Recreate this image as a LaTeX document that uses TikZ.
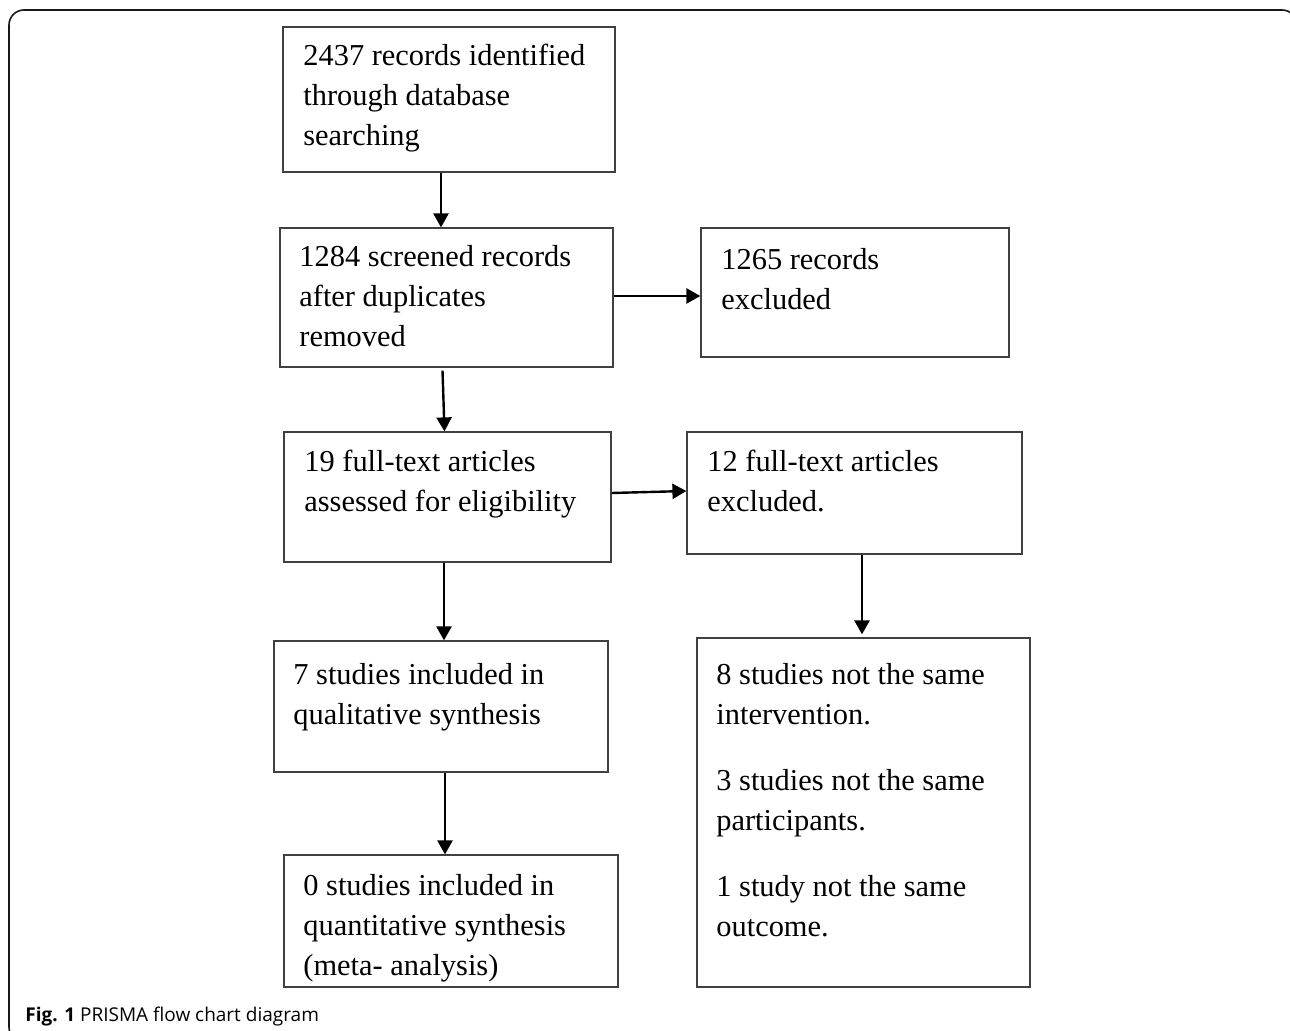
\documentclass[tikz,border=0pt]{standalone}
\usepackage{fontspec}
\setmainfont{Liberation Serif}
\newfontfamily\capfont{Open Sans}
\usetikzlibrary{arrows.meta,fit}

\tikzset{
    box/.style={draw=black!75, line width=0.6pt, inner sep=0pt},
    % base = baseline of the last line
    txt/.style={anchor=base west, align=left, inner sep=0pt,
        font=\fontsize{15.2}{20}\selectfont},
    arr/.style={-{Triangle[length=7pt,width=7.5pt]}, line width=1.2pt},
}

\begin{document}
\begin{tikzpicture}[x=0.5pt, y=-0.5pt]
    \useasboundingbox (0,0) rectangle (1290,1031);
    % 外框
    \draw[black!90, line width=0.8pt, rounded corners=7.5pt]
        (40,1042) -- (9,1042) -- (9,10) -- (1297,10) -- (1297,40);

    % 左列
    \node[box, fit={(283,27) (615,172)}] (rec) {};
    \node[txt] (rectxt) at (303,146) {2437 records identified\\through database\\searching};
    \node[box, fit={(280,228) (613,367)}] (scr) {};
    \node[txt] (scrtxt) at (299,347) {1284 screened records\\after duplicates\\removed};
    \node[box, fit={(284,432) (611,562)}] (full) {};
    \node[txt] (fulltxt) at (304,512) {19 full-text articles\\assessed for eligibility};
    \node[box, fit={(274,641) (608,772)}] (qual) {};
    \node[txt] (qualtxt) at (293,724) {7 studies included in\\qualitative synthesis};
    \node[box, fit={(284,855) (618,987)}] (quant) {};
    \node[txt] (quanttxt) at (303,975) {0 studies included in\\quantitative synthesis\\(meta- analysis)};

    % 右列
    \node[box, fit={(701,228) (1009,357)}] (exc) {};
    \node[txt] (exctxt) at (721,310) {1265 records\\excluded};
    \node[box, fit={(687,432) (1022,554)}] (fte) {};
    \node[txt] (ftetxt) at (707,512) {12 full-text articles\\excluded.};
    \node[box, fit={(697,638) (1030,987)}] (notsame) {};
    \node[txt] (notsametxt) at (716,936) {8 studies not the same\\intervention.\\[13pt]
        3 studies not the same\\participants.\\[13pt]
        1 study not the same\\outcome.};

    % 箭头
    \draw[arr] ([xshift=-4pt]rec.south) -- ([xshift=-4pt]rec.south |- scr.north);
    \draw[arr] ([yshift=0.75pt]scr.east) -- ([yshift=0.75pt]scr.east -| exc.west);
    \draw[arr] ([xshift=-2pt,yshift=-1.5pt]scr.south) -- ([xshift=-1.5pt]full.north);
    \draw[arr] ([yshift=2pt]full.east) -- ([yshift=1pt]fte.west);
    \draw[arr] ([xshift=-1.75pt]full.south) -- ([xshift=-1.75pt]full.south |- qual.north);
    \draw[arr] ([xshift=3.75pt]fte.south) -- ([xshift=3.75pt,yshift=1.5pt]fte.south |- notsame.north);
    \draw[arr] ([xshift=2pt]qual.south) -- ([xshift=2pt]qual.south |- quant.north);

    \node[anchor=base west, inner sep=0pt, font=\capfont\fontsize{9.5}{12}\selectfont] (cap)
        at (25,1021) {\textbf{Fig. 1} PRISMA flow chart diagram};
\end{tikzpicture}
\end{document}
